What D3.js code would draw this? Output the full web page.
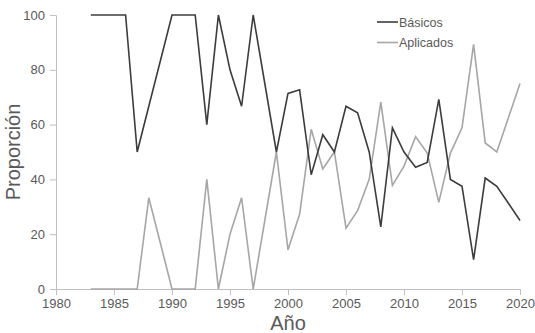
<!doctype html>
<html lang="es">
<head>
  <meta charset="utf-8">
  <title>Proporción por año</title>
  <script src="https://d3js.org/d3.v7.min.js"></script>
  <style>
    body { margin: 0; background: #fff; }
    .axis text { font-family: 'Liberation Sans', Arial, sans-serif; font-size: 13px; fill: #595959; }
    .axis path, .axis line { stroke: #bfbfbf; stroke-width: 1; }
  </style>
</head>
<body>
  <div id="chart"></div>
  <script>
    // años y proporciones (%)
    var years = [1983,1984,1985,1986,1987,1988,1989,1990,1991,1992,1993,1994,1995,1996,1997,1998,1999,
                 2000,2001,2002,2003,2004,2005,2006,2007,2008,2009,2010,2011,2012,2013,2014,2015,2016,2017,2018,2019,2020];
    var basicos = [100,100,100,100,50,66.7,83.3,100,100,100,60,100,80,66.7,100,75,50,
                   71.4,72.7,41.7,56.3,50,66.7,64.3,50,22.7,58.8,50,44.4,46.2,69.2,40,37.5,10.7,40.5,37.5,31.3,25];
    var aplicados = [0,0,0,0,0,33.3,16.7,0,0,0,40,0,20,33.3,0,25,50,
                     14.3,27.3,58.3,43.8,50,22.2,28.6,40,68.2,37.8,44.8,55.6,49.6,31.6,49.6,58.8,89.3,53.3,50,62.5,75];
    var xTicks = [1980,1985,1990,1995,2000,2005,2010,2015,2020];
    var yTicks = [0,20,40,60,80,100];

    var width = 535, height = 333;
    var margin = {top: 15, right: 15, bottom: 44, left: 56};

    var svg = d3.select('#chart').append('svg')
        .attr('width', width)
        .attr('height', height);

    var x = d3.scaleLinear().domain([1980, 2020]).range([margin.left, width - margin.right]);
    var y = d3.scaleLinear().domain([0, 100]).range([height - margin.bottom, margin.top]);

    svg.append('g')
        .attr('class', 'axis')
        .attr('transform', 'translate(0,' + (height - margin.bottom) + ')')
        .call(d3.axisBottom(x).tickValues(xTicks).tickFormat(d3.format('d')).tickSizeOuter(0).tickSize(6).tickPadding(4));

    svg.append('g')
        .attr('class', 'axis')
        .attr('transform', 'translate(' + margin.left + ',0)')
        .call(d3.axisLeft(y).tickValues(yTicks).tickSizeOuter(0).tickSize(6).tickPadding(5));

    var series = [
      {name: 'Básicos', values: basicos, color: '#3c3c3c'},
      {name: 'Aplicados', values: aplicados, color: '#a6a6a6'}
    ];

    var line = d3.line()
        .x(function(d, i) { return x(years[i]); })
        .y(function(d) { return y(d); });

    // gris primero, negro encima
    series.slice().reverse().forEach(function(s) {
      svg.append('path')
          .datum(s.values)
          .attr('fill', 'none')
          .attr('stroke', s.color)
          .attr('stroke-width', 1.6)
          .attr('stroke-linejoin', 'miter')
          .attr('d', line);
    });

    // leyenda
    var legend = svg.append('g').attr('transform', 'translate(377,22)');
    series.forEach(function(s, i) {
      var g = legend.append('g').attr('transform', 'translate(0,' + (i * 20.5) + ')');
      g.append('line').attr('x1', 0).attr('x2', 21).attr('y1', 0).attr('y2', 0)
          .attr('stroke', s.color).attr('stroke-width', 1.6);
      g.append('text').attr('x', 22).attr('y', 4.5)
          .style('font-family', "'Liberation Sans', Arial, sans-serif")
          .style('font-size', '12.5px')
          .style('fill', '#595959')
          .text(s.name);
    });

    // títulos de ejes
    svg.append('text')
        .attr('x', x(2000))
        .attr('y', 330)
        .attr('text-anchor', 'middle')
        .style('font-family', "'Liberation Sans', Arial, sans-serif")
        .style('font-size', '20px')
        .style('fill', '#595959')
        .text('Año');

    svg.append('text')
        .attr('transform', 'translate(20,' + y(50) + ') rotate(-90)')
        .attr('text-anchor', 'middle')
        .style('font-family', "'Liberation Sans', Arial, sans-serif")
        .style('font-size', '20px')
        .style('fill', '#595959')
        .text('Proporción');
  </script>
</body>
</html>
